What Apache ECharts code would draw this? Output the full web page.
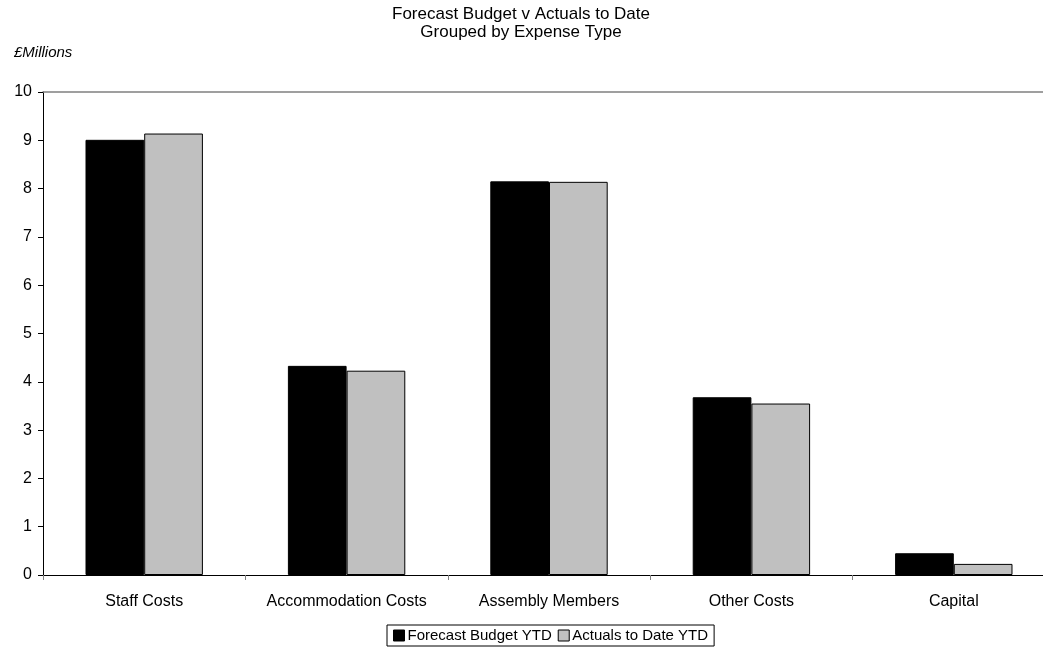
<!DOCTYPE html>
<html><head><meta charset="utf-8">
<script src="https://cdn.jsdelivr.net/npm/echarts@6/dist/echarts.min.js"></script>
<style>html,body{margin:0;padding:0;background:#fff;overflow:hidden}#c{width:1055px;height:648px}</style>
</head><body><div id="c"></div>
<script>
var categories = ['Staff Costs', 'Accommodation Costs', 'Assembly Members', 'Other Costs', 'Capital'];
var forecastBudget = [9.01, 4.33, 8.15, 3.68, 0.45];
var actualsToDate = [9.14, 4.23, 8.14, 3.55, 0.23];
var seriesNames = ['Forecast Budget YTD', 'Actuals to Date YTD'];

var chart = echarts.init(document.getElementById('c'));
var F = 'Liberation Sans, Arial, sans-serif';
chart.setOption({
  animation: false,
  textStyle: {fontFamily: F},
  title: [{
    text: 'Forecast Budget v Actuals to Date\nGrouped by Expense Type',
    left: 516, top: 0, textAlign: 'center',
    textStyle: {fontSize: 17, fontWeight: 'normal', color: '#000', lineHeight: 18, fontFamily: F}
  }, {
    text: '£Millions', left: 9, top: 40,
    textStyle: {fontSize: 15, fontStyle: 'italic', fontWeight: 'normal', color: '#000', fontFamily: F}
  }],
  legend: {
    data: seriesNames, left: 387, top: 625,
    borderColor: '#000', borderWidth: 1, padding: [3, 6, 3, 6],
    icon: 'rect',
    itemWidth: 11, itemHeight: 11, itemGap: 6,
    itemStyle: {borderColor: '#000', borderWidth: 1},
    textStyle: {fontSize: 15, color: '#000', padding: [0, 0, 0, -2]}
  },
  grid: {left: 43, top: 92, right: 0, bottom: 73, containLabel: false},
  xAxis: [{
    type: 'category', data: categories,
    axisLine: {lineStyle: {color: '#000'}},
    axisTick: {show: true, length: 5, alignWithLabel: false, lineStyle: {color: '#808080'}},
    axisLabel: {fontSize: 16, color: '#000', margin: 19, interval: 0}
  }, {
    type: 'category', data: categories, position: 'top',
    axisLine: {lineStyle: {color: '#808080', width: 1.5}},
    axisTick: {show: false}, axisLabel: {show: false}
  }],
  yAxis: {
    type: 'value', min: 0, max: 10, interval: 1,
    axisLine: {show: true, lineStyle: {color: '#000'}},
    axisTick: {show: true, length: 5, lineStyle: {color: '#000'}},
    splitLine: {show: false},
    axisLabel: {fontSize: 16, color: '#000', margin: 11}
  },
  series: [{
    name: seriesNames[0], type: 'bar', data: forecastBudget,
    barGap: '0%', barCategoryGap: '42%',
    itemStyle: {color: '#000', borderColor: '#000', borderWidth: 1}
  }, {
    name: seriesNames[1], type: 'bar', data: actualsToDate,
    itemStyle: {color: '#c0c0c0', borderColor: '#000', borderWidth: 1}
  }]
});
</script></body></html>
